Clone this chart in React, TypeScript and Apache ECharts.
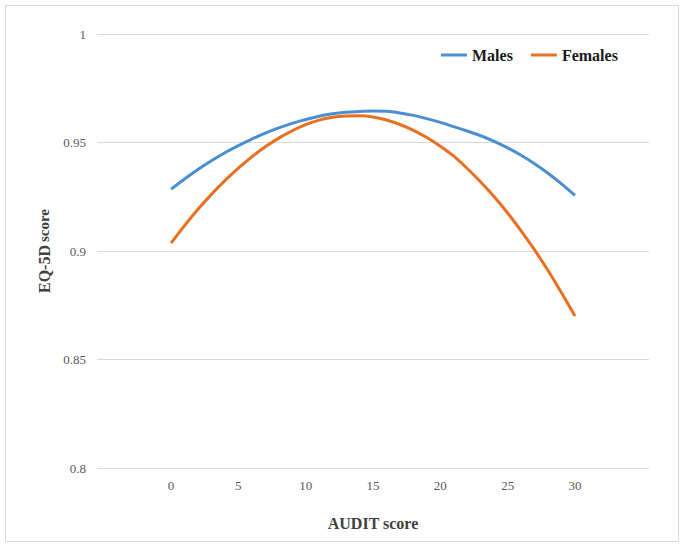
import React, { useEffect, useRef } from "react";
import * as echarts from "echarts";

const axisCategories = [
  -5, -4, -3, -2, -1, 0, 1, 2, 3, 4, 5, 6, 7, 8, 9, 10, 11, 12, 13, 14, 15, 16, 17, 18, 19, 20,
  21, 22, 23, 24, 25, 26, 27, 28, 29, 30, 31, 32, 33, 34, 35,
];
const auditScores = [
  0, 1, 2, 3, 4, 5, 6, 7, 8, 9, 10, 11, 12, 13, 14, 15, 16, 17, 18, 19, 20, 21, 22, 23, 24, 25,
  26, 27, 28, 29, 30,
];
const males = [
  0.9285, 0.9332, 0.9376, 0.9416, 0.9453, 0.9486, 0.9516, 0.9543, 0.9567, 0.9588, 0.9606, 0.9621,
  0.9632, 0.9639, 0.9643, 0.9645, 0.9644, 0.9636, 0.9625, 0.961, 0.9593, 0.9573, 0.9553, 0.9531,
  0.9505, 0.9475, 0.9441, 0.9402, 0.9358, 0.9309, 0.9256,
];
const females = [
  0.9036, 0.9117, 0.9192, 0.9261, 0.9324, 0.9382, 0.9434, 0.948, 0.952, 0.9554, 0.9582, 0.9603,
  0.9616, 0.9622, 0.9623, 0.9618, 0.9604, 0.9583, 0.9556, 0.9523, 0.9483, 0.9437, 0.938, 0.9318,
  0.925, 0.9175, 0.9093, 0.9005, 0.891, 0.8808, 0.87,
];
const yTicks = { min: 0.8, max: 1, interval: 0.05 };
const labelShown = [0, 5, 10, 15, 20, 25, 30];

const FONT = "Liberation Serif";

function toSeries(values: number[]) {
  return axisCategories.map((c) => {
    const i = auditScores.indexOf(c);
    return i >= 0 ? values[i] : null;
  });
}

export default function App() {
  const ref = useRef<HTMLDivElement>(null);
  useEffect(() => {
    if (!ref.current) return;
    const chart = echarts.init(ref.current, null, { renderer: "svg" });
    chart.setOption({
      animation: false,
      backgroundColor: "#ffffff",
      textStyle: { fontFamily: FONT },
      graphic: [
        {
          type: "rect",
          shape: { x: 5.5, y: 5.5, width: 673, height: 536 },
          style: { fill: "none", stroke: "#d9d9d9", lineWidth: 1 },
          silent: true,
        },
      ],
      legend: {
        left: 436,
        top: 42,
        icon: "rect",
        itemWidth: 26,
        itemHeight: 3,
        itemGap: 18,
        textStyle: { fontFamily: FONT, fontWeight: "bold", fontSize: 16, color: "#1a1a1a" },
        data: ["Males", "Females"],
      },
      grid: { left: 97, right: 34, top: 34, bottom: 79, containLabel: false },
      xAxis: {
        type: "category",
        boundaryGap: true,
        data: axisCategories.map(String),
        name: "AUDIT score",
        nameLocation: "middle",
        nameGap: 47,
        nameTextStyle: { fontFamily: FONT, fontWeight: "bold", fontSize: 16, color: "#404040" },
        axisLine: { show: false },
        axisTick: { show: false },
        axisLabel: {
          interval: (_idx: number, val: string) => labelShown.indexOf(Number(val)) >= 0,
          fontFamily: FONT,
          fontSize: 13,
          color: "#595959",
          margin: 11,
        },
        splitLine: { show: false },
      },
      yAxis: {
        type: "value",
        min: yTicks.min,
        max: yTicks.max,
        interval: yTicks.interval,
        name: "{a|EQ-5D} {b|score}",
        nameLocation: "middle",
        nameGap: 42,
        nameRotate: 90,
        nameTextStyle: {
          color: "#404040",
          rich: {
            a: { fontFamily: FONT, fontWeight: "bold", fontSize: 16, color: "#404040" },
            b: { fontFamily: FONT, fontWeight: "bold", fontSize: 15, color: "#404040" },
          },
        },
        axisLine: { show: false },
        axisTick: { show: false },
        axisLabel: { fontFamily: FONT, fontSize: 13, color: "#595959", margin: 11 },
        splitLine: { show: true, lineStyle: { color: "#d9d9d9", width: 1 } },
      },
      series: [
        {
          name: "Males",
          type: "line",
          data: toSeries(males),
          smooth: 0.2,
          showSymbol: false,
          symbol: "none",
          connectNulls: false,
          itemStyle: { color: "#4a8fd0" },
          lineStyle: { color: "#4a8fd0", width: 3 },
        },
        {
          name: "Females",
          type: "line",
          data: toSeries(females),
          smooth: 0.2,
          showSymbol: false,
          symbol: "none",
          connectNulls: false,
          itemStyle: { color: "#e8701f" },
          lineStyle: { color: "#e8701f", width: 3 },
        },
      ],
    });
    return () => chart.dispose();
  }, []);
  return (
    <div
      ref={ref}
      style={{ position: "absolute", left: 0, top: 0, width: 683, height: 547 }}
    />
  );
}
